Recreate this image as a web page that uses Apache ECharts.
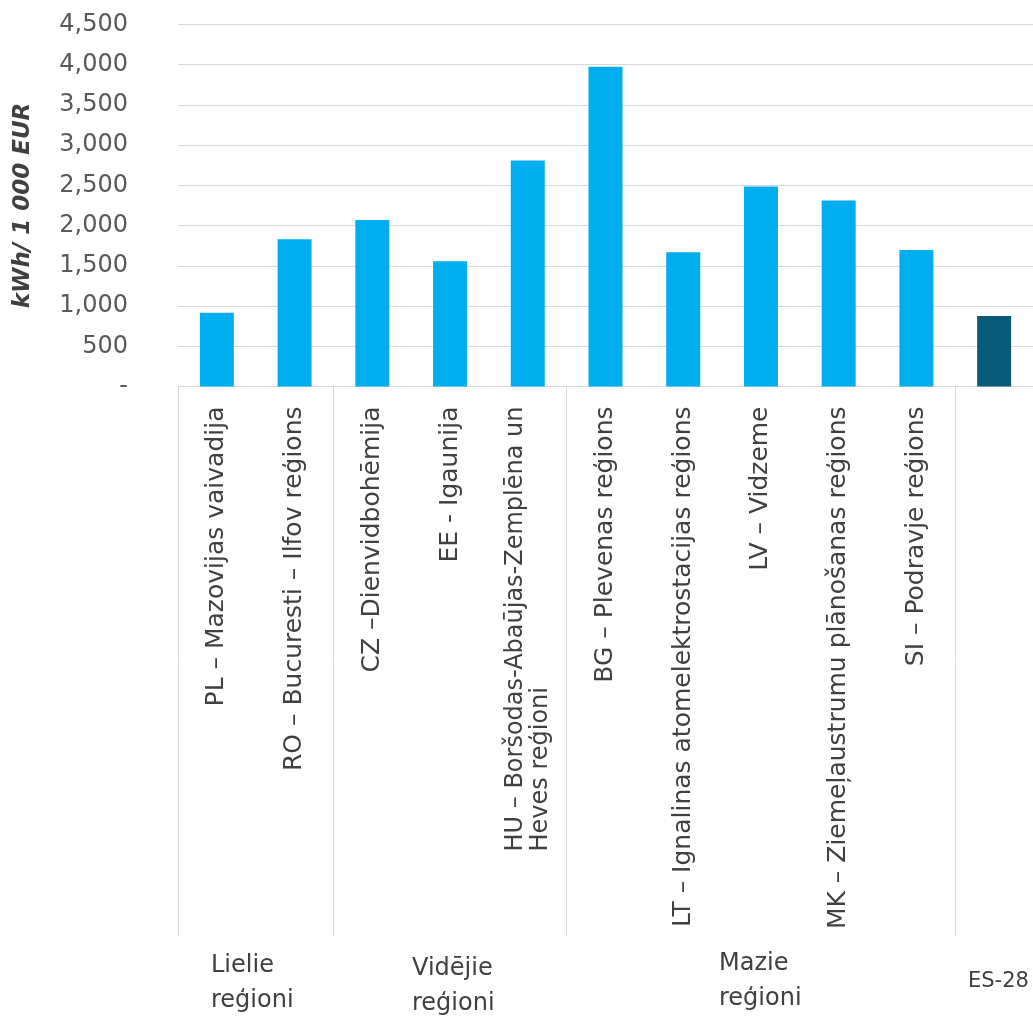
<!DOCTYPE html>
<html lang="lv">
<head>
    <meta charset="UTF-8">
    <title>kWh / 1 000 EUR</title>
    <script src="https://cdn.jsdelivr.net/npm/echarts@6/dist/echarts.min.js"></script>
    <style>
        html, body { margin: 0; padding: 0; background: #fff; }
        #main { width: 1033px; height: 1016px; }
    </style>
</head>
<body>
<div id="main"></div>
<script type="text/javascript">
    // reģioni (kategorijas)
    var regions = [
        'PL – Mazovijas vaivadija',
        'RO – Bucuresti – Ilfov reģions',
        'CZ –Dienvidbohēmija',
        'EE - Igaunija',
        'HU – Boršodas-Abaūjas-Zemplēna un\nHeves reģioni',
        'BG – Plevenas reģions',
        'LT – Ignalinas atomelektrostacijas reģions',
        'LV – Vidzeme',
        'MK – Ziemeļaustrumu plānošanas reģions',
        'SI – Podravje reģions',
        ''
    ];
    // kWh / 1 000 EUR
    var values = [918, 1831, 2071, 1557, 2808, 3975, 1669, 2485, 2311, 1698, 877];
    // pēdējais stabiņš - ES-28
    var barColors = ['#00AEEF', '#00AEEF', '#00AEEF', '#00AEEF', '#00AEEF', '#00AEEF',
        '#00AEEF', '#00AEEF', '#00AEEF', '#00AEEF', '#0A5A79'];
    // grupu sākuma indeksi (atdalītāji)
    var groupStarts = [0, 2, 5, 10];
    var groupNames = ['Lielie\nreģioni', 'Vidējie\nreģioni', 'Mazie\nreģioni', 'ES-28'];

    var font = 'DejaVu Sans';
    var textColor = '#404040';

    var myChart = echarts.init(document.getElementById('main'));

    var option = {
        animation: false,
        grid: {
            left: 178,
            top: 24.5,
            width: 863.5,
            bottom: 629.5,
            containLabel: false
        },
        xAxis: {
            type: 'category',
            data: regions,
            axisLine: { lineStyle: { color: '#d9d9d9', width: 1 } },
            axisTick: {
                show: true,
                // atdalītāji starp reģionu grupām
                interval: function (index) {
                    return groupStarts.indexOf(index) >= 0;
                },
                length: 550,
                lineStyle: { color: '#d9d9d9', width: 1 }
            },
            axisLabel: {
                interval: 0,
                rotate: 90,
                margin: 20,
                color: textColor,
                fontFamily: font,
                fontSize: 25,
                formatter: function (v) {
                    if (v.indexOf('\n') < 0) return v;
                    return v.split('\n').map(function (s) { return '{l|' + s + '}'; }).join('\n');
                },
                rich: {
                    l: { align: 'left', color: textColor, fontFamily: font, fontSize: 24, lineHeight: 25 }
                }
            }
        },
        yAxis: {
            type: 'value',
            min: 0,
            max: 4500,
            interval: 500,
            name: 'kWh/ 1 000 EUR',
            nameLocation: 'middle',
            nameGap: 143,
            nameTextStyle: {
                fontFamily: font,
                fontSize: 23,
                fontWeight: 'bold',
                fontStyle: 'italic',
                color: textColor
            },
            axisLine: { show: false },
            axisTick: { show: false },
            axisLabel: {
                margin: 50,
                color: '#595959',
                fontFamily: font,
                fontSize: 24,
                formatter: function (v) {
                    return v === 0 ? '-' : v.toLocaleString('en-US');
                }
            },
            splitLine: { lineStyle: { color: '#d9d9d9', width: 1 } }
        },
        series: [{
            type: 'bar',
            barWidth: 34,
            data: values.map(function (v, i) {
                return { value: v, itemStyle: { color: barColors[i] } };
            })
        }],
        graphic: [
            { type: 'text', left: 211, top: 948, style: { text: groupNames[0], fill: textColor, font: '24px "DejaVu Sans"', lineHeight: 35 } },
            { type: 'text', left: 412, top: 951, style: { text: groupNames[1], fill: textColor, font: '24px "DejaVu Sans"', lineHeight: 35 } },
            { type: 'text', left: 719, top: 946, style: { text: groupNames[2], fill: textColor, font: '24px "DejaVu Sans"', lineHeight: 35 } },
            { type: 'text', left: 968, top: 964, style: { text: groupNames[3], fill: textColor, font: '21px "DejaVu Sans"', lineHeight: 35 } }
        ]
    };

    myChart.setOption(option);
</script>
</body>
</html>
